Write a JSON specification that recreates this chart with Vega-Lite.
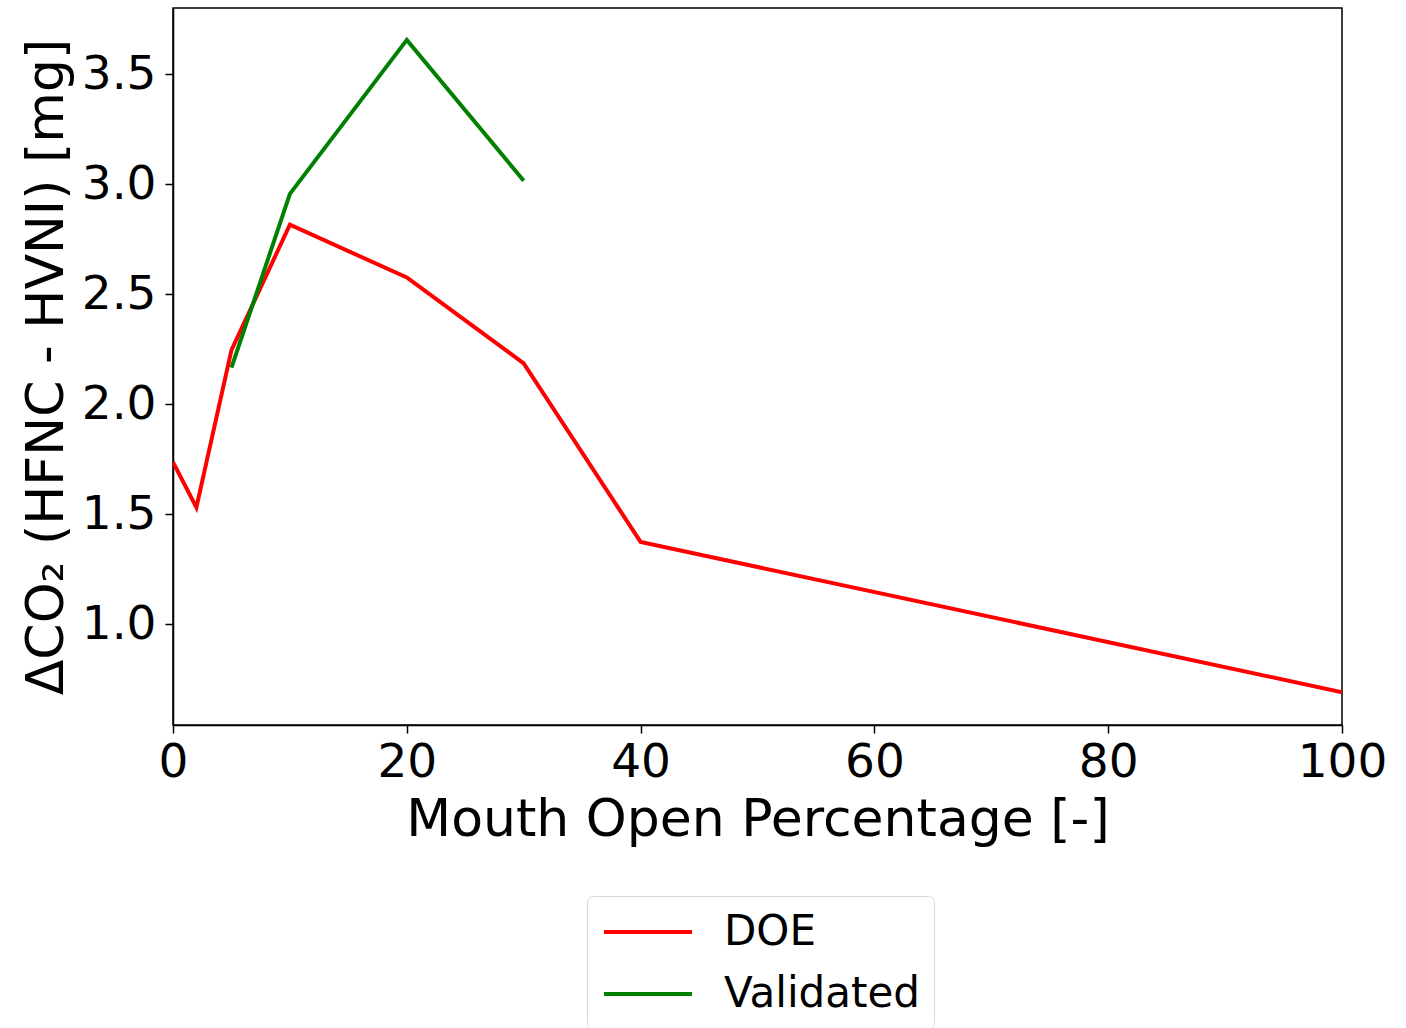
{
  "$schema": "https://vega.github.io/schema/vega-lite/v6.json",
  "width": 1169,
  "height": 717,
  "autosize": "none",
  "padding": {"left": 173, "top": 8, "right": 64, "bottom": 303},
  "background": "white",
  "config": {
    "font": "DejaVu Sans",
    "view": {"stroke": "black", "strokeWidth": 1.5},
    "axis": {
      "grid": false,
      "domainColor": "black",
      "domainWidth": 1.5,
      "tickColor": "black",
      "tickWidth": 1.5,
      "tickSize": 8,
      "labelColor": "black",
      "labelFont": "DejaVu Sans",
      "labelFontSize": 47,
      "labelFlush": false,
      "titleFont": "DejaVu Sans",
      "titleFontSize": 52,
      "titleFontWeight": "normal",
      "titleColor": "black"
    }
  },
  "data": {
    "values": [
      {"x": 0, "y": 1.736, "series": "DOE"},
      {"x": 2, "y": 1.53, "series": "DOE"},
      {"x": 5, "y": 2.245, "series": "DOE"},
      {"x": 10, "y": 2.815, "series": "DOE"},
      {"x": 20, "y": 2.575, "series": "DOE"},
      {"x": 30, "y": 2.185, "series": "DOE"},
      {"x": 40, "y": 1.373, "series": "DOE"},
      {"x": 100, "y": 0.69, "series": "DOE"},
      {"x": 5, "y": 2.165, "series": "Validated"},
      {"x": 10, "y": 2.955, "series": "Validated"},
      {"x": 20, "y": 3.655, "series": "Validated"},
      {"x": 30, "y": 3.015, "series": "Validated"}
    ]
  },
  "mark": {"type": "line", "strokeWidth": 4, "clip": true},
  "encoding": {
    "x": {
      "field": "x",
      "type": "quantitative",
      "scale": {"domain": [0, 100], "nice": false, "zero": false},
      "axis": {"values": [0, 20, 40, 60, 80, 100], "title": "Mouth Open Percentage [-]", "labelPadding": 6, "titlePadding": 9}
    },
    "y": {
      "field": "y",
      "type": "quantitative",
      "scale": {"domain": [0.541, 3.8], "nice": false, "zero": false},
      "axis": {"values": [1.0, 1.5, 2.0, 2.5, 3.0, 3.5], "format": ".1f", "title": "ΔCO₂ (HFNC - HVNI) [mg]", "labelPadding": 9, "titlePadding": 8}
    },
    "color": {
      "field": "series",
      "type": "nominal",
      "scale": {"domain": ["DOE", "Validated"], "range": ["#ff0000", "#008000"]},
      "legend": {
        "title": null,
        "orient": "none",
        "legendX": 414,
        "legendY": 888,
        "symbolType": "M-2.2,0H2.2",
        "symbolSize": 1600,
        "symbolStrokeWidth": 4,
        "symbolOffset": 25,
        "labelFontSize": 42,
        "labelFont": "DejaVu Sans",
        "labelColor": "black",
        "labelOffset": 54,
        "labelLimit": 500,
        "rowPadding": 19,
        "padding": 14,
        "strokeColor": "#d9d9d9",
        "fillColor": "white",
        "cornerRadius": 6
      }
    }
  }
}
